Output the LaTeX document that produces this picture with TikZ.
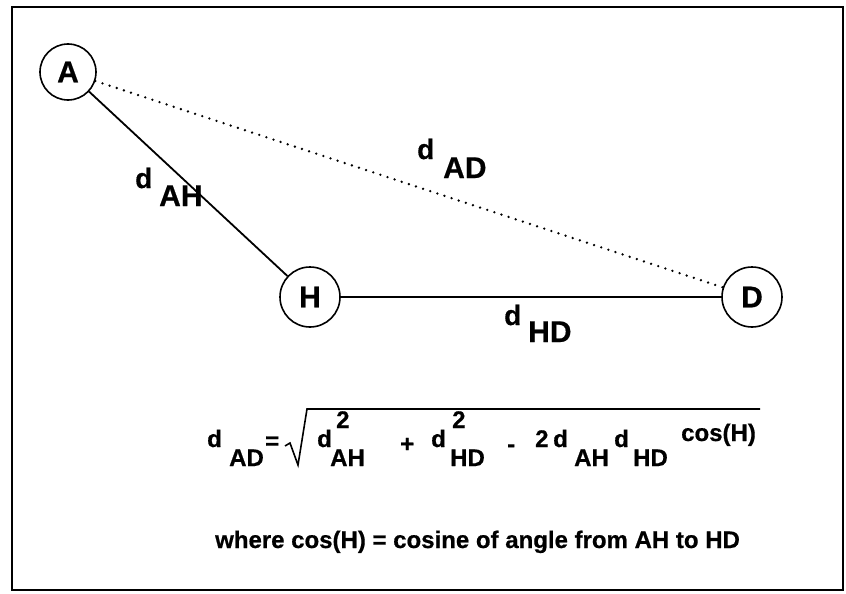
\documentclass[tikz,border=0pt]{standalone}
\usepackage{fontspec}
\setmainfont{Liberation Sans}[BoldFeatures={FakeBold=0.6}]
\newcommand{\fs}[1]{\fontsize{#1}{#1}\selectfont\bfseries}
\tikzset{
  circ/.style={draw, circle, line width=1.6pt, minimum size=56pt, inner sep=0pt, font=\fs{30}},
  edge/.style={line width=1.8pt},
  dotedge/.style={line width=2.6pt, dash pattern=on 0pt off 7.5pt, line cap=round},
  ld/.style={anchor=base west, inner sep=0pt, font=\fs{28}},
  ls/.style={anchor=base west, inner sep=0pt, font=\fs{30}},
  fd/.style={anchor=base west, inner sep=0pt, font=\fs{24}},
  fs/.style={anchor=base west, inner sep=0pt, font=\fs{24}},
}
\begin{document}
\begin{tikzpicture}[x=1pt,y=-1pt]
\useasboundingbox (0,0) rectangle (846,594);
\draw[line width=1.8pt] (12,7) rectangle (843,590);
\node[circ] (A) at (68,72) {A};
\node[circ, minimum size=60pt] (H) at (310,297) {H};
\node[circ, minimum size=60pt] (D) at (752,297) {D};
\draw[edge] (A) -- (H);
\draw[edge] (H) -- (D);
\draw[dotedge] (A) -- (D);
% edge labels
\node[ld] (lad1) at (417,159) {d};
\node[ls] (lad2) at (443,178) {AD};
\node[ld] (lah1) at (135,188) {d};
\node[ls] (lah2) at (159,206) {AH};
\node[ld] (lhd1) at (504,325) {d};
\node[ls] (lhd2) at (528,342) {HD};
% formula
\node[fd] (f1) at (207,447) {d};
\node[fs] (f2) at (229,466) {AD};
\node[fd] (f3) at (265,449) {=};
\draw[line width=1.6pt] (285,446) -- (290,443) -- (298,465) -- (307,409) -- (760,409);
\node[fd] (f4) at (317,447) {d};
\node[fd] (f5) at (336,428) {2};
\node[fs] (f6) at (330,466) {AH};
\node[fd] (f7) at (400,452) {+};
\node[fd] (f8) at (431,447) {d};
\node[fd] (f9) at (452,428) {2};
\node[fs] (f10) at (450,466) {HD};
\node[fd] (f11) at (507,452) {-};
\node[fd] (f12) at (535,447) {2};
\node[fd] (f13) at (553,447) {d};
\node[fs] (f14) at (574,466) {AH};
\node[fd] (f15) at (614,447) {d};
\node[fs] (f16) at (633,466) {HD};
\node[fs] (f17) at (681,441) {cos(H)};
\node[anchor=base west, inner sep=0pt, font=\fs{24}] (w) at (215,548) {where cos(H) = cosine of angle from AH to HD};
\end{tikzpicture}
\end{document}
